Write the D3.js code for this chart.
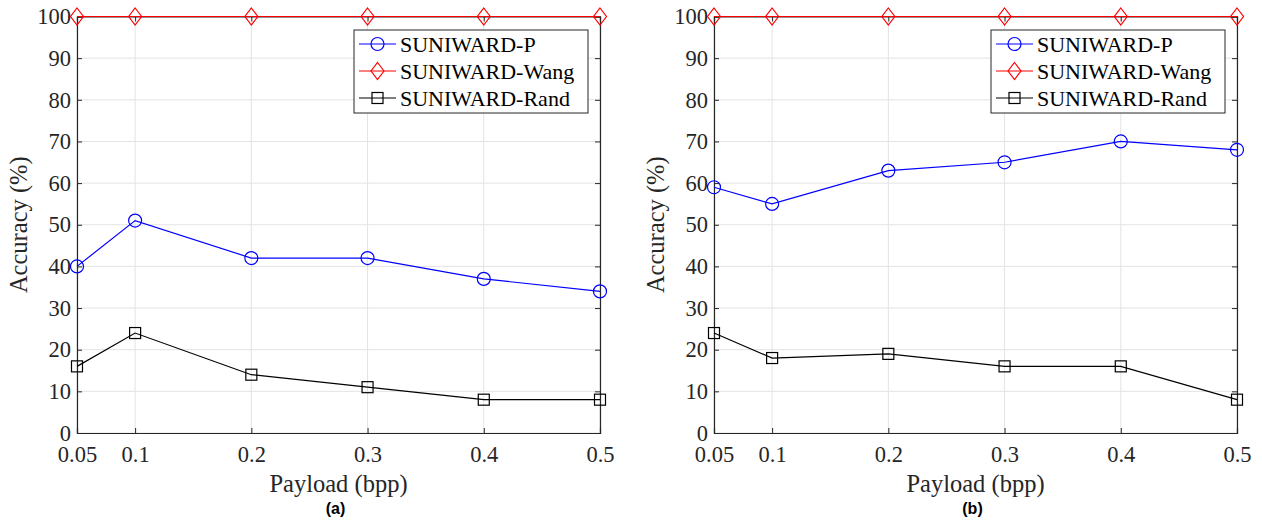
<!DOCTYPE html>
<html><head><meta charset="utf-8">
<script src="https://cdn.jsdelivr.net/npm/d3@7"></script>
<style>body{margin:0;background:#fff}</style></head>
<body><svg id="c" width="1262" height="523"></svg>
<script>
const payload = [0.05, 0.1, 0.2, 0.3, 0.4, 0.5];
const xTicks = [0.05, 0.1, 0.2, 0.3, 0.4, 0.5];
const yTicks = [0,10,20,30,40,50,60,70,80,90,100];
const seriesNames = ["SUNIWARD-P", "SUNIWARD-Wang", "SUNIWARD-Rand"];
const panelA_P = [40, 51, 42, 42, 37, 34];
const panelA_Wang = [100, 100, 100, 100, 100, 100];
const panelA_Rand = [16, 24, 14, 11, 8, 8];
const panelB_P = [59, 55, 63, 65, 70, 68];
const panelB_Wang = [100, 100, 100, 100, 100, 100];
const panelB_Rand = [24, 18, 19, 16, 16, 8];
const panelLabels = ["(a)", "(b)"];

const svg = d3.select("#c");
const colors = ["#0000ff", "#ff0000", "#000000"];
const shapes = ["circle", "diamond", "square"];
const serif = '"Liberation Serif", "Times New Roman", Times, serif';

function marker(g, shape, x, y, color) {
  if (shape === "circle") {
    g.append("circle").attr("cx", x).attr("cy", y).attr("r", 6.5)
      .attr("fill", "none").attr("stroke", color).attr("stroke-width", 1.2);
  } else if (shape === "diamond") {
    const w = 6.5, h = 8.5;
    g.append("path").attr("d", `M${x},${y-h}L${x+w},${y}L${x},${y+h}L${x-w},${y}Z`)
      .attr("fill", "none").attr("stroke", color).attr("stroke-width", 1.2);
  } else {
    const s = 5.5;
    g.append("rect").attr("x", x-s).attr("y", y-s).attr("width", 2*s).attr("height", 2*s)
      .attr("fill", "none").attr("stroke", color).attr("stroke-width", 1.2);
  }
}

function panel(left, data, label) {
  const L = left, R = left + 523, T = 16.5, B = 433;
  const x = d3.scaleLinear().domain([0.05, 0.5]).range([L, R]);
  const y = d3.scaleLinear().domain([0, 100]).range([B, T]);
  const g = svg.append("g");
  g.append("g").selectAll("line").data(xTicks).join("line")
    .attr("x1", d => x(d)).attr("x2", d => x(d)).attr("y1", T).attr("y2", B)
    .attr("stroke", "#e3e3e3").attr("stroke-width", 1);
  g.append("g").selectAll("line").data(yTicks).join("line")
    .attr("x1", L).attr("x2", R).attr("y1", d => y(d)).attr("y2", d => y(d))
    .attr("stroke", "#e3e3e3").attr("stroke-width", 1);
  const ax = g.append("g").attr("transform", `translate(0,${B})`)
    .call(d3.axisBottom(x).tickValues(xTicks).tickSize(-5).tickPadding(13).tickFormat(d => String(d)));
  const ay = g.append("g").attr("transform", `translate(${L},0)`)
    .call(d3.axisLeft(y).tickValues(yTicks).tickSize(-5).tickPadding(6));
  const axT = g.append("g").attr("transform", `translate(0,${T})`)
    .call(d3.axisTop(x).tickValues(xTicks).tickSize(-5).tickFormat(""));
  const ayR = g.append("g").attr("transform", `translate(${R},0)`)
    .call(d3.axisRight(y).tickValues(yTicks).tickSize(-5).tickFormat(""));
  [ax, ay, axT, ayR].forEach(a => {
    a.attr("font-family", null).attr("font-size", null);
    a.select(".domain").attr("stroke", "#262626").attr("stroke-width", 1.2);
    a.selectAll(".tick line").attr("stroke", "#262626");
    a.selectAll("text").style("font-family", serif)
      .style("font-size", "22.5px").attr("fill", "#262626");
  });
  ax.selectAll("text").attr("dy", "0.71em");
  const line = d3.line().x((d, i) => x(payload[i])).y(d => y(d));
  [0, 2, 1].forEach(si => {
    g.append("path").datum(data[si]).attr("d", line)
      .attr("fill", "none").attr("stroke", colors[si]).attr("stroke-width", 1.2);
    data[si].forEach((v, i) => marker(g, shapes[si], x(payload[i]), y(v), colors[si]));
  });
  g.append("text").attr("x", (L + R) / 2).attr("y", 492).attr("text-anchor", "middle")
    .style("font-family", serif).style("font-size", "24.5px").attr("fill", "#262626").text("Payload (bpp)");
  g.append("text").attr("transform", `translate(${L - 50},${(T + B) / 2}) rotate(-90)`)
    .attr("text-anchor", "middle").style("font-family", serif).style("font-size", "24.5px")
    .attr("fill", "#262626").text("Accuracy (%)");
  g.append("text").attr("x", (L + R) / 2 - 3).attr("y", 514).attr("text-anchor", "middle")
    .style("font-family", '"Liberation Sans", Arial, sans-serif').attr("font-weight", "bold")
    .style("font-size", "16px").attr("fill", "#000").text(label);
  const lx = R - 246, ly = 30, lw = 234, lh = 83;
  const lg = g.append("g");
  lg.append("rect").attr("x", lx).attr("y", ly).attr("width", lw).attr("height", lh)
    .attr("fill", "#fff").attr("stroke", "#262626").attr("stroke-width", 1);
  seriesNames.forEach((n, i) => {
    const yy = ly + 14 + i * 27;
    lg.append("line").attr("x1", lx + 5).attr("x2", lx + 42).attr("y1", yy).attr("y2", yy)
      .attr("stroke", colors[i]).attr("stroke-width", 1.2);
    marker(lg, shapes[i], lx + 23.5, yy, colors[i]);
    lg.append("text").attr("x", lx + 46).attr("y", yy).attr("dy", "0.35em")
      .style("font-family", serif).style("font-size", "22px").attr("fill", "#000").text(n);
  });
}

panel(77, [panelA_P, panelA_Wang, panelA_Rand], panelLabels[0]);
panel(714, [panelB_P, panelB_Wang, panelB_Rand], panelLabels[1]);
</script></body></html>
